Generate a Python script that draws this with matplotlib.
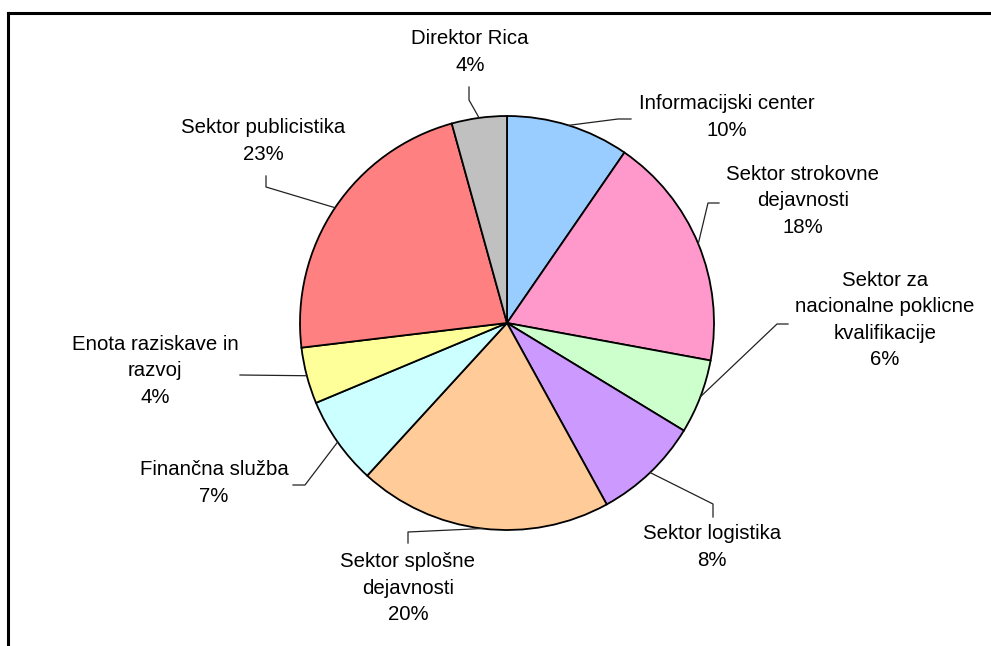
import numpy as np
import matplotlib.pyplot as plt
from matplotlib.lines import Line2D

plt.rcParams['font.family'] = ['Liberation Sans', 'DejaVu Sans']

# Podatki (deleži po organizacijskih enotah)
labels = ['Informacijski center', 'Sektor strokovne\ndejavnosti',
          'Sektor za\nnacionalne poklicne\nkvalifikacije', 'Sektor logistika',
          'Sektor splošne\ndejavnosti', 'Finančna služba',
          'Enota raziskave in\nrazvoj', 'Sektor publicistika', 'Direktor Rica']
values = [9.6, 18.3, 5.8, 8.3, 19.8, 6.9, 4.4, 22.6, 4.3]
colors = ['#99CCFF', '#FF99CC', '#CCFFCC', '#CC99FF', '#FFCC99',
          '#CCFFFF', '#FFFF99', '#FF8080', '#C0C0C0']

# Postavitev (v pikslih slike, y od zgoraj)
W, H = 991, 646
CX, CY, R = 507, 323, 207
label_pos = [(727, 117), (803, 201), (885, 320), (712, 547), (408, 588),
             (214, 483), (155, 371), (263, 141), (470, 52)]
leader_pts = [[(631, 119), (618, 119)], [(719, 203), (708, 203)],
              [(788, 324), (777, 324)], [(713, 517), (713, 504)],
              [(408, 543), (408, 532)], [(293, 485), (305, 485)],
              [(240, 375)], [(266, 176), (266, 187)], [(469, 87), (469, 100)]]

fig = plt.figure(figsize=(W / 100, H / 100), dpi=100)
ax = fig.add_axes([0, 0, 1, 1])

wedges, _ = ax.pie(values, colors=colors, startangle=90, counterclock=False,
                   center=(CX, H - CY), radius=R, frame=True,
                   wedgeprops=dict(edgecolor='black', linewidth=1.3))
ax.set_xlim(0, W)
ax.set_ylim(0, H)
ax.set_aspect('auto')
ax.axis('off')

total = sum(values)
for w, lab, v, (lx, ly), pts in zip(wedges, labels, values, label_pos, leader_pts):
    ang = np.deg2rad((w.theta1 + w.theta2) / 2)
    ex = CX + R * np.cos(ang)
    ey = (H - CY) + R * np.sin(ang)
    xs = [p[0] for p in pts] + [ex]
    ys = [H - p[1] for p in pts] + [ey]
    ax.plot(xs, ys, color='#222222', linewidth=0.9)
    ax.text(lx, H - ly, f'{lab}\n{round(v / total * 100):.0f}%', ha='center', va='center',
            fontsize=14.7, linespacing=1.5, color='black')

# okvir grafikona (viden le zgornji in levi rob)
ax.add_line(Line2D([8, W], [H - 13, H - 13], color='black', linewidth=2.2))
ax.add_line(Line2D([8, 8], [H - 13, 0], color='black', linewidth=2.2))

fig.savefig('out.png', dpi=100)
